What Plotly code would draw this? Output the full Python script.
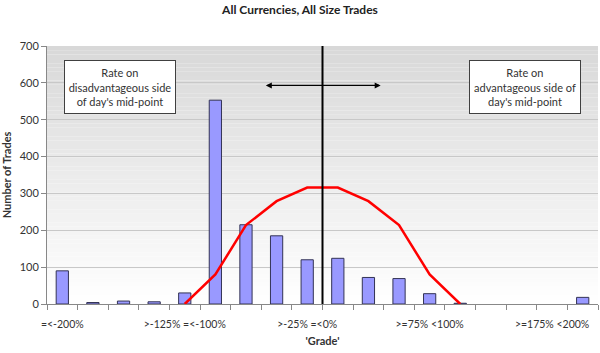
import plotly.graph_objects as go

categories = ["=<-200%", ">-200% =<-175%", ">-175% =<-150%", ">-150% =<-125%", ">-125% =<-100%",
              ">-100% =<-75%", ">-75% =<-50%", ">-50% =<-25%", ">-25% =<0%", ">=0% <25%",
              ">=25% <50%", ">=50% <75%", ">=75% <100%", ">=100% <125%", ">=125% <150%",
              ">=150% <175%", ">=175% <200%", ">=200%"]
trades = [90, 4, 8, 6, 30, 553, 215, 185, 120, 124, 72, 69, 28, 2, 0, 0, 0, 18]
normal_fit = [None, None, None, None, 0, 80, 214, 279, 316, 316, 279, 214, 80, 0, None, None, None, None]
label_every = 4
y_ticks = [0, 100, 200, 300, 400, 500, 600, 700]

xpos = list(range(len(categories)))
FONT = "Lato, 'Open Sans', sans-serif"

fig = go.Figure()
fig.add_trace(go.Bar(x=xpos, y=trades,
                     marker=dict(color="#9999FF",
                                 line=dict(color="#333355", width=[1 if v > 0 else 0 for v in trades])),
                     width=0.4, hoverinfo="skip"))
fig.add_trace(go.Scatter(x=xpos, y=normal_fit, mode="lines", line=dict(color="#FF0000", width=2.5),
                         connectgaps=False, hoverinfo="skip"))

# gradient background bands (top gray, bottom white)
n = 60
shapes = []
for i in range(n):
    c = int(round(255 - (255 - 216) * ((i + 0.5) / n)))
    shapes.append(dict(type="rect", xref="x domain", yref="y domain", x0=0, x1=1,
                       y0=i / n, y1=(i + 1) / n, fillcolor=f"rgb({c},{c},{c})",
                       line=dict(width=0), layer="below"))
# vertical mid-point line
mid = (len(categories) - 1) / 2
shapes.append(dict(type="line", xref="x", yref="y domain", x0=mid, x1=mid, y0=0, y1=1,
                   line=dict(color="black", width=2), layer="above"))

fig.update_layout(
    width=600, height=353,
    margin=dict(l=47, r=2, t=46, b=49),
    paper_bgcolor="white", plot_bgcolor="white",
    showlegend=False,
    shapes=shapes,
    font=dict(family=FONT, size=11, color="#333333"),
    title=dict(text="<b>All Currencies, All Size Trades</b>", x=0.5, xanchor="center",
               y=1 - 10 / 353, yanchor="middle", font=dict(size=12, color="#222222")),
    bargap=0.6,
)
fig.update_xaxes(range=[-0.5, len(categories) - 0.5], tickvals=xpos[::label_every],
                 ticktext=categories[::label_every], ticks="", showgrid=False, zeroline=False,
                 showline=True, linecolor="#888888", linewidth=1, ticklabelstandoff=10,
                 tickfont=dict(size=10.5, color="#333333"),
                 minor=dict(tick0=-0.5, dtick=1, ticks="outside", ticklen=5, tickcolor="#888888", showgrid=False),
                 title=dict(text="<b>'Grade'</b>", font=dict(size=11, color="#333333"), standoff=8))
fig.update_yaxes(range=[0, 700], tickvals=y_ticks, ticks="outside", ticklen=5, tickcolor="#888888",
                 showgrid=True, gridcolor="#c8c8c8", gridwidth=1, zeroline=False,
                 showline=True, linecolor="#888888", linewidth=1,
                 tickfont=dict(size=11, color="#333333"),
                 title=dict(text="<b>Number of Trades</b>", font=dict(size=11, color="#333333"), standoff=8))

box = dict(xref="x domain", yref="y domain", xanchor="center", yanchor="middle", showarrow=False,
           bgcolor="white", bordercolor="#404040", borderwidth=1, width=108, height=50, borderpad=1,
           font=dict(size=11, color="#333333"), align="center")
fig.add_annotation(x=0.133, y=0.841, text="Rate on<br>disadvantageous side<br>of day's mid-point", **box)
fig.add_annotation(x=0.867, y=0.841, text="Rate on<br>advantageous side of<br>day's mid-point", **box)
fig.add_annotation(x=mid + 1.9, y=593, ax=mid - 1.9, ay=593, xref="x", yref="y", axref="x", ayref="y",
                   text="", showarrow=True, arrowhead=2, arrowside="end+start", arrowsize=1,
                   arrowwidth=1.2, arrowcolor="black")

fig.write_html("out.html")
